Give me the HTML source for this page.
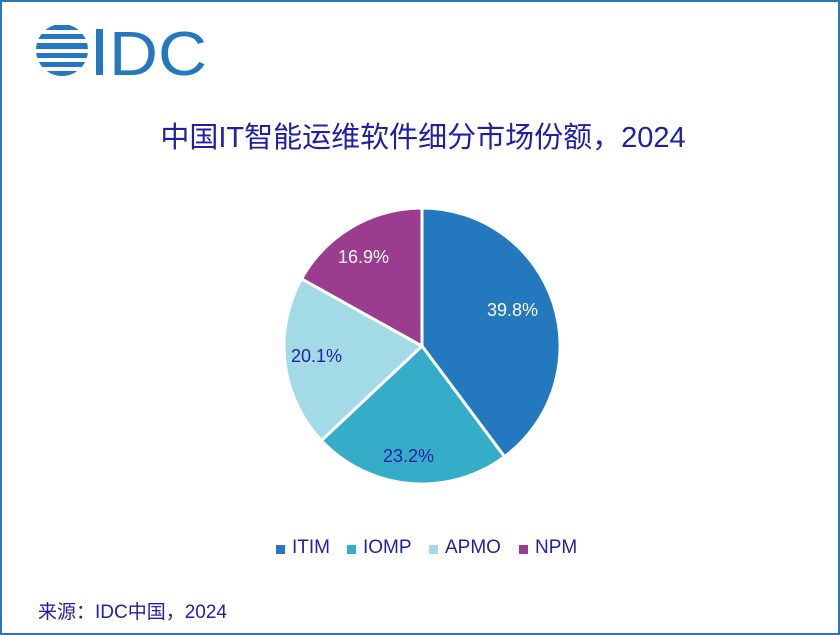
<!DOCTYPE html>
<html><head><meta charset="utf-8"><style>
body{margin:0;background:#fff;}
#c{position:relative;width:836px;height:631px;border:2px solid #2a78b8;overflow:hidden;font-family:"Liberation Sans","Noto Sans CJK SC",sans-serif;color:#1f1fa8;}
.t{position:absolute;white-space:nowrap;}
</style></head><body><div id="c">
<svg width="836" height="631" style="position:absolute;left:0;top:0">
<g fill="#2479be">
<clipPath id="cc"><circle cx="60" cy="48" r="26"/></clipPath>
<g clip-path="url(#cc)">
<rect x="30" y="23" width="64" height="5"/>
<rect x="30" y="32" width="64" height="5"/>
<rect x="30" y="41" width="64" height="6"/>
<rect x="30" y="51" width="64" height="5"/>
<rect x="30" y="60" width="64" height="5"/>
<rect x="30" y="69" width="64" height="5"/>
</g>
<rect x="94" y="27" width="7" height="46"/>
</g>
<text x="107" y="73" font-family="Liberation Sans" font-size="62" fill="#2479be" textLength="98" lengthAdjust="spacingAndGlyphs">DC</text>
<g stroke="#fff" stroke-width="3" stroke-linejoin="round">
<path d="M420,344 L420,206 A138,138 0 0 1 502.5,454.7 Z" fill="#2479be"/>
<path d="M420,344 L502.5,454.7 A138,138 0 0 1 319.4,438.5 Z" fill="#36adc8"/>
<path d="M420,344 L319.4,438.5 A138,138 0 0 1 299.5,276.8 Z" fill="#a2dbe6"/>
<path d="M420,344 L299.5,276.8 A138,138 0 0 1 420,206 Z" fill="#9b3c8f"/>
</g>
<rect x="274" y="543" width="9" height="9" fill="#2479be"/>
<rect x="345" y="543" width="9" height="9" fill="#36adc8"/>
<rect x="427" y="543" width="9" height="9" fill="#a2dbe6"/>
<rect x="517" y="543" width="9" height="9" fill="#9b3c8f"/>
</svg>
<div class="t" style="left:0;width:842px;text-align:center;top:112px;font-size:29px;">中国IT智能运维软件细分市场份额，2024</div>
<div class="t" style="left:485px;top:298px;font-size:18px;color:#fff">39.8%</div>
<div class="t" style="left:381px;top:444px;font-size:18px;">23.2%</div>
<div class="t" style="left:289px;top:344px;font-size:18px;">20.1%</div>
<div class="t" style="left:336px;top:245px;font-size:18px;color:#fff">16.9%</div>
<div class="t" style="left:290px;top:535px;font-size:19px;">ITIM</div>
<div class="t" style="left:361px;top:535px;font-size:19px;">IOMP</div>
<div class="t" style="left:443px;top:535px;font-size:19px;">APMO</div>
<div class="t" style="left:533px;top:535px;font-size:19px;">NPM</div>
<div class="t" style="left:36px;top:595px;font-size:19px;">来源：IDC中国，2024</div>
</div></body></html>
